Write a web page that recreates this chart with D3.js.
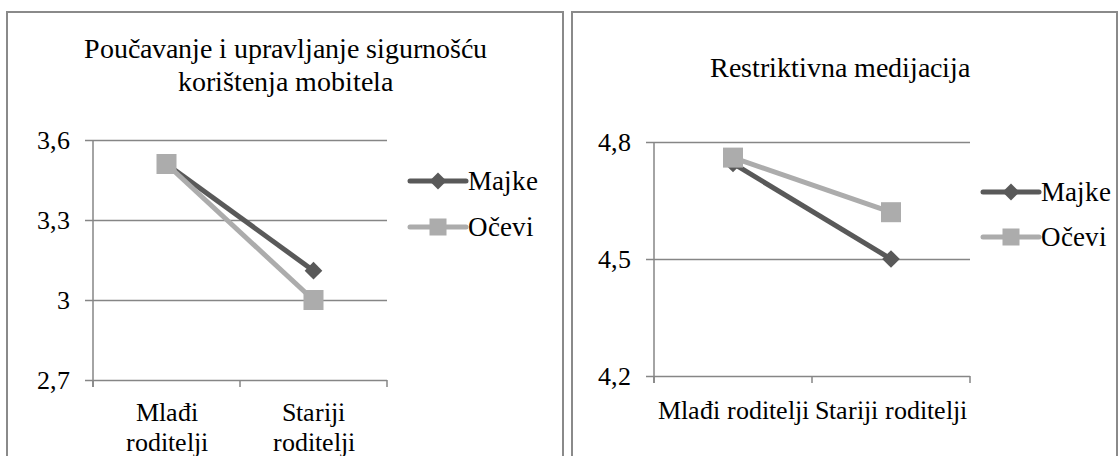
<!DOCTYPE html>
<html>
<head>
<meta charset="utf-8">
<script src="https://cdn.jsdelivr.net/npm/d3@7"></script>
<style>
  @font-face {
    font-family: "ChartSerif";
    src: local("Liberation Serif"), local("LiberationSerif"), local("LiberationSerif-Regular"),
         local("Tinos"), local("Tinos-Regular"), local("Times New Roman"), local("TimesNewRomanPSMT"),
         local("DejaVu Serif"), local("DejaVuSerif"), local("Noto Serif"), local("NotoSerif-Regular");
  }
  body { margin: 0; background: #fff; }
</style>
</head>
<body>
<div id="chart"></div>
<script>
// data
var categories = ["Mlađi roditelji", "Stariji roditelji"];
var seriesNames = ["Majke", "Očevi"];
var seriesColors = ["#595959", "#acacac"];

var leftTitle = ["Poučavanje i upravljanje sigurnošću", "korištenja mobitela"];
var leftMajke = [3.51, 3.11];
var leftOcevi = [3.51, 3.0];
var leftTicks = [2.7, 3.0, 3.3, 3.6];
var leftTickLabels = ["2,7", "3", "3,3", "3,6"];

var rightTitle = ["Restriktivna medijacija"];
var rightMajke = [4.745, 4.5];
var rightOcevi = [4.76, 4.62];
var rightTicks = [4.2, 4.5, 4.8];
var rightTickLabels = ["4,2", "4,5", "4,8"];

var W = 1118, H = 456;
var serif = 'ChartSerif, "Liberation Serif", "DejaVu Serif", Times, serif';
var gridColor = "#868686";

var svg = d3.select("#chart")
    .append("svg")
    .attr("width", W)
    .attr("height", H);

function label(x, y, txt, size, anchor) {
  return svg.append("text")
      .attr("x", x)
      .attr("y", y)
      .attr("text-anchor", anchor || "middle")
      .style("font-family", serif)
      .style("font-size", size + "px")
      .style("fill", "#000")
      .text(txt);
}

var panels = [
  { box: [7, 12, 563], plot: { left: 93, right: 387, top: 140, bottom: 380 },
    title: leftTitle, titleX: 285, titleY: 58, series: [leftMajke, leftOcevi],
    ticks: leftTicks, tickLabels: leftTickLabels, wrap: true, labelY: 421,
    legend: { x: 410, y: 181, gap: 46 } },
  { box: [572, 12, 1117], plot: { left: 654, right: 970, top: 142, bottom: 376 },
    title: rightTitle, titleX: 840, titleY: 77, series: [rightMajke, rightOcevi],
    ticks: rightTicks, tickLabels: rightTickLabels, wrap: false, labelY: 419,
    legend: { x: 983, y: 192, gap: 45 } }
];

function marker(g, i, cx, cy, big) {
  if (i === 0) {
    var s = big ? 12.5 : 12;
    g.append("rect")
        .attr("x", -s / 2).attr("y", -s / 2)
        .attr("width", s).attr("height", s)
        .attr("transform", "translate(" + cx + "," + cy + ") rotate(45)")
        .style("fill", seriesColors[0]);
  } else {
    var s2 = big ? 20 : 17;
    g.append("rect")
        .attr("x", cx - s2 / 2).attr("y", cy - s2 / 2)
        .attr("width", s2).attr("height", s2)
        .style("fill", seriesColors[1]);
  }
}

panels.forEach(function (p) {
  // panel border
  svg.append("path")
      .attr("d", "M" + p.box[0] + "," + (H + 5) + "V" + p.box[1] + "H" + p.box[2] + "V" + (H + 5))
      .style("fill", "none")
      .style("stroke", "#8a8a8a")
      .style("stroke-width", 2);

  p.title.forEach(function (t, k) {
    label(p.titleX, p.titleY + k * 33, t, 28);
  });

  var x = d3.scaleBand()
      .domain(categories)
      .range([p.plot.left, p.plot.right]);

  var y = d3.scaleLinear()
      .domain([p.ticks[0], p.ticks[p.ticks.length - 1]])
      .range([p.plot.bottom, p.plot.top]);

  // gridlines + y tick labels
  var yAxis = d3.axisLeft(y)
      .tickValues(p.ticks)
      .tickSize(0)
      .tickFormat(function (d, i) { return p.tickLabels[i]; });
  var gy = svg.append("g")
      .attr("transform", "translate(" + (p.plot.left - 8) + ",0)")
      .call(yAxis);
  gy.select(".domain").remove();
  gy.selectAll("line")
      .attr("x1", 0).attr("x2", p.plot.right - p.plot.left + 8)
      .style("stroke", gridColor).style("stroke-width", 1.5);
  gy.selectAll("text")
      .attr("x", -15)
      .attr("dy", "0.33em")
      .style("font-size", "26px")
      .style("font-family", serif)
      .style("fill", "#000");

  // vertical axis line
  svg.append("line")
      .attr("x1", p.plot.left).attr("x2", p.plot.left)
      .attr("y1", p.plot.top).attr("y2", p.plot.bottom + 7)
      .style("stroke", gridColor).style("stroke-width", 1.5);

  // category boundary ticks
  var bounds = categories.map(function (c) { return x(c); }).concat([p.plot.right]);
  svg.append("g").selectAll("line")
      .data(bounds)
      .enter()
      .append("line")
      .attr("x1", function (d) { return d; })
      .attr("x2", function (d) { return d; })
      .attr("y1", p.plot.bottom)
      .attr("y2", p.plot.bottom + 7)
      .style("stroke", gridColor).style("stroke-width", 1.5);

  // category labels
  categories.forEach(function (c) {
    var lines = p.wrap ? c.split(" ") : [c];
    lines.forEach(function (l, k) {
      label(x(c) + x.bandwidth() / 2, p.labelY + k * 30, l, 26);
    });
  });

  // series lines and markers
  var line = d3.line()
      .x(function (d, i) { return x(categories[i]) + x.bandwidth() / 2; })
      .y(function (d) { return y(d); });

  p.series.forEach(function (vals, i) {
    svg.append("path")
        .datum(vals)
        .attr("d", line)
        .style("fill", "none")
        .style("stroke", seriesColors[i])
        .style("stroke-width", 5);
    var gm = svg.append("g");
    vals.forEach(function (v, j) {
      marker(gm, i, x(categories[j]) + x.bandwidth() / 2, y(v), true);
    });
  });

  // legend
  seriesNames.forEach(function (name, i) {
    var ly = p.legend.y + i * p.legend.gap;
    svg.append("line")
        .attr("x1", p.legend.x).attr("x2", p.legend.x + 56)
        .attr("y1", ly).attr("y2", ly)
        .style("stroke", seriesColors[i])
        .style("stroke-width", 5)
        .style("stroke-linecap", "round");
    marker(svg, i, p.legend.x + 28, ly, false);
    label(p.legend.x + 58, ly, name, 27, "start")
        .attr("dy", "0.35em");
  });
});
</script>
</body>
</html>
